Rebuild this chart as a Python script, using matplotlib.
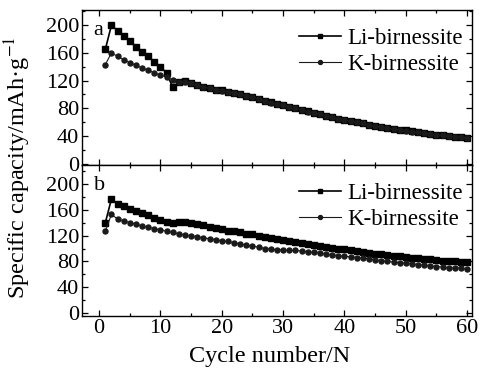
import matplotlib
matplotlib.use("Agg")
import matplotlib.pyplot as plt
from matplotlib.ticker import MultipleLocator

cycles = list(range(1, 61))

li_a = [165, 200, 192, 184, 177, 169, 162, 155, 147, 140,
        131, 110, 118, 119, 117, 114, 111, 109, 107, 106,
        104, 102, 100, 98, 96, 94, 91, 89, 86, 84,
        82, 80, 78, 76, 73, 71, 69, 67, 65, 63,
        62, 60, 58, 56, 55, 53, 52, 50, 49, 48,
        47, 45, 44, 43, 42, 41, 40, 39, 38, 37]
k_a = [143, 160, 155, 150, 146, 142, 138, 135, 131, 128,
       125, 121, 118, 118, 116, 113, 111, 109, 107, 105,
       104, 102, 100, 98, 96, 93, 91, 88, 86, 84,
       82, 80, 78, 75, 73, 71, 69, 67, 65, 63,
       61, 60, 58, 56, 54, 53, 51, 50, 49, 47,
       46, 45, 44, 43, 42, 41, 40, 39, 38, 37]

li_b = [140, 177, 170, 166, 162, 159, 156, 152, 148, 144,
        141, 140, 141, 141, 140, 138, 136, 134, 132, 130,
        128, 127, 125, 123, 122, 120, 118, 116, 115, 114,
        112, 110, 109, 107, 105, 104, 103, 101, 100, 99,
        97, 96, 95, 93, 92, 91, 90, 89, 88, 87,
        86, 85, 84, 83, 82, 81, 80, 80, 79, 79]
k_b = [127, 153, 146, 143, 140, 138, 135, 133, 131, 129,
       127, 125, 123, 121, 120, 118, 117, 115, 114, 112,
       111, 109, 107, 105, 104, 102, 100, 99, 98, 98,
       97, 97, 96, 95, 94, 93, 91, 90, 89, 88,
       87, 86, 85, 84, 82, 81, 80, 79, 78, 77,
       76, 75, 74, 73, 72, 71, 70, 70, 69, 68]

series_names = ["Li-birnessite", "K-birnessite"]
yticks = [0, 40, 80, 120, 160, 200]
xticks = [0, 10, 20, 30, 40, 50, 60]

plt.rcParams['font.family'] = ['Liberation Serif', 'DejaVu Serif']
plt.rcParams['mathtext.fontset'] = 'stix'

fig = plt.figure(figsize=(4.81, 3.69), dpi=100)
L, R = 82/481, 472/481
ax_a = fig.add_axes([L, 1-165/369, R-L, (165-10)/369])
ax_b = fig.add_axes([L, 1-316/369, R-L, (316-165)/369])

def style(ax, ylim):
    ax.set_xlim(-2.8, 60.8)
    ax.set_ylim(*ylim)
    ax.set_yticks(yticks)
    ax.set_xticks(xticks)
    ax.xaxis.set_minor_locator(MultipleLocator(5))
    ax.yaxis.set_minor_locator(MultipleLocator(20))
    ax.tick_params(which='both', direction='in', top=True, right=True,
                   labelsize=16, width=0.9, pad=2)
    ax.tick_params(which='major', length=4)
    ax.tick_params(which='minor', length=2)
    for s in ax.spines.values():
        s.set_linewidth(1.0)

for ax, li, k, ylim, lab in [(ax_a, li_a, k_a, (-2, 222), 'a'),
                             (ax_b, li_b, k_b, (-5, 230), 'b')]:
    ax.plot(cycles, li, '-s', color='black', ms=3.8, lw=1.2, label=series_names[0])
    ax.plot(cycles, k, '-o', color='#1a1a1a', ms=3.6, lw=0.8, label=series_names[1])
    style(ax, ylim)
    ax.text(0.03, 0.93, lab, transform=ax.transAxes, va='top', ha='left', fontsize=16)
    ax.legend(loc='upper right', frameon=False, fontsize=16.5, handlelength=1.8,
              handletextpad=0.3, labelspacing=0.2, borderaxespad=0.2,
              bbox_to_anchor=(1.012, 0.97), markerscale=0.8)

ax_a.tick_params(labelbottom=False)
ax_b.set_xlabel("Cycle number/N", fontsize=17.5, labelpad=0)
ax_b.xaxis.set_label_coords(0.48, -0.2)
fig.text(0.036, 1-168/369, "Specific capacity/mAh\u00b7g$^{-1}$",
         rotation=90, va='center', ha='center', fontsize=17.5)

fig.savefig("out.png", dpi=100)
